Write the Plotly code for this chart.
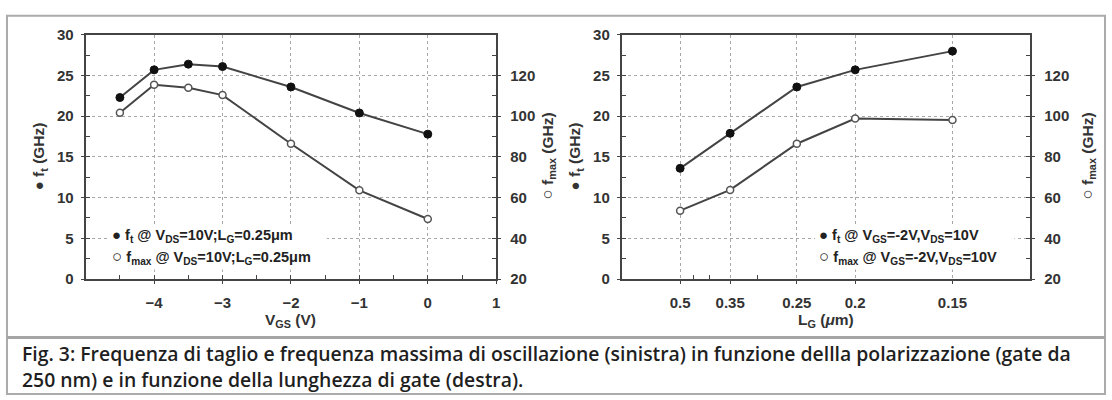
import plotly.graph_objects as go

# Left panel: gate bias sweep (L_G = 0.25 um, V_DS = 10 V)
vgs = [-4.5, -4, -3.5, -3, -2, -1, 0]
ft_vgs = [22.3, 25.7, 26.4, 26.1, 23.6, 20.4, 17.8]
fmax_vgs = [101.7, 115.5, 114.0, 110.4, 86.5, 63.6, 49.5]
vgs_ticks = [-4, -3, -2, -1, 0, 1]

# Right panel: gate length sweep (V_GS = -2 V, V_DS = 10 V)
lg = [0.5, 0.35, 0.25, 0.2, 0.15]
lg_labels = ["0.5", "0.35", "0.25", "0.2", "0.15"]
lg_minor = [0.45, 0.4, 0.3]
ft_lg = [13.6, 17.9, 23.6, 25.7, 28.0]
fmax_lg = [53.6, 63.8, 86.5, 98.9, 98.1]

ft_ticks = [0, 5, 10, 15, 20, 25, 30]
fmax_ticks = [20, 40, 60, 80, 100, 120]

W, H = 1112, 400
LINE = "#444444"
GRID = "#a8a8a8"
TXT = "#333333"
TICKFONT = dict(family="Liberation Sans", size=15, color=TXT, weight="bold")


def px(x):
    return x / W


def py(y):
    return 1 - y / H


inv_lg = [1 / v for v in lg]
inv_minor = [1 / v for v in lg_minor]

fig = go.Figure()

line_style = dict(color=LINE, width=2)
ft_marker = dict(symbol="circle", size=8, color="#111111", line=dict(color="#111111", width=1))
fmax_marker = dict(symbol="circle", size=7, color="white", line=dict(color="#555555", width=1.5))

fig.add_trace(go.Scatter(x=vgs, y=ft_vgs, mode="lines+markers", line=line_style,
                         marker=ft_marker, xaxis="x", yaxis="y", showlegend=False))
fig.add_trace(go.Scatter(x=vgs, y=fmax_vgs, mode="lines+markers", line=line_style,
                         marker=fmax_marker, xaxis="x", yaxis="y2", showlegend=False))
fig.add_trace(go.Scatter(x=inv_lg, y=ft_lg, mode="lines+markers", line=line_style,
                         marker=ft_marker, xaxis="x2", yaxis="y3", showlegend=False))
fig.add_trace(go.Scatter(x=inv_lg, y=fmax_lg, mode="lines+markers", line=line_style,
                         marker=fmax_marker, xaxis="x2", yaxis="y4", showlegend=False))

ydom = [py(282), py(27)]
common_axis = dict(showline=True, linecolor=LINE, linewidth=2, tickfont=TICKFONT,
                   zeroline=False, ticks="outside", ticklen=3, tickcolor=LINE)
grid = dict(showgrid=True, gridcolor=GRID, griddash="dot", gridwidth=1)

fig.update_layout(
    width=W, height=H,
    margin=dict(l=0, r=0, t=0, b=0),
    paper_bgcolor="white", plot_bgcolor="white",
    xaxis=dict(domain=[px(86), px(498)], range=[-5, 1], tickmode="array", tickvals=vgs_ticks,
               anchor="y", mirror=True, ticklabelstandoff=6,
               minor=dict(dtick=0.5, tick0=0, ticks="inside", ticklen=4, tickcolor=LINE, showgrid=False),
               **grid, **common_axis),
    yaxis=dict(domain=ydom, range=[0, 30], tickmode="array", tickvals=ft_ticks, anchor="x",
               mirror=True, ticklabelstandoff=4,
               minor=dict(dtick=2.5, tick0=0, ticks="inside", ticklen=4, tickcolor=LINE, showgrid=False),
               **grid, **common_axis),
    yaxis2=dict(range=[20, 140], tickmode="array", tickvals=fmax_ticks, overlaying="y",
                side="right", anchor="x", showgrid=False, ticklabelstandoff=6,
                minor=dict(dtick=10, tick0=0, ticks="inside", ticklen=4, tickcolor=LINE, showgrid=False),
                **common_axis),
    xaxis2=dict(domain=[px(624), px(1034)], range=[1, 8], tickmode="array", tickvals=inv_lg,
                ticktext=lg_labels, anchor="y3", mirror=True, ticklabelstandoff=6,
                minor=dict(tickmode="array", tickvals=inv_minor, ticks="inside", ticklen=4,
                           tickcolor=LINE, showgrid=False),
                **grid, **common_axis),
    yaxis3=dict(domain=ydom, range=[0, 30], tickmode="array", tickvals=ft_ticks, anchor="x2",
                mirror=True, ticklabelstandoff=4,
                minor=dict(dtick=2.5, tick0=0, ticks="inside", ticklen=4, tickcolor=LINE, showgrid=False),
                **grid, **common_axis),
    yaxis4=dict(range=[20, 140], tickmode="array", tickvals=fmax_ticks, overlaying="y3",
                side="right", anchor="x2", showgrid=False, ticklabelstandoff=6,
                minor=dict(dtick=10, tick0=0, ticks="inside", ticklen=4, tickcolor=LINE, showgrid=False),
                **common_axis),
)

shapes = [
    # outer frame and caption divider
    dict(type="rect", xref="paper", yref="paper", x0=px(7), x1=px(1109), y0=py(402), y1=py(7),
         line=dict(color="#ababab", width=2), fillcolor="rgba(0,0,0,0)", layer="above"),
    dict(type="line", xref="paper", yref="paper", x0=px(7), x1=px(1109), y0=py(343), y1=py(343),
         line=dict(color="#a5a5a5", width=3), layer="above"),
    # white panels behind the in-plot legends
    dict(type="rect", xref="paper", yref="paper", x0=px(108), x1=px(328), y0=py(272), y1=py(225),
         line=dict(width=0), fillcolor="white", layer="above"),
    dict(type="rect", xref="paper", yref="paper", x0=px(818), x1=px(1018), y0=py(272), y1=py(225),
         line=dict(width=0), fillcolor="white", layer="above"),
]
fig.update_layout(shapes=shapes)

LEGFONT = dict(family="Liberation Sans", size=14.5, color="#222222", weight="bold")
TITLEFONT = dict(family="Liberation Sans", size=15.5, color=TXT, weight="bold")
CAPFONT = dict(family="Open Sans", size=19.4, color="#1f1f1f", weight=600)

OPEN = "<span style='font-size:17px'>○</span>"
FILLED = "<span style='font-size:15px'>●</span>"

ann = []


def note(text, x, y, font, xanchor="left", yanchor="middle", angle=0):
    ann.append(dict(text=text, x=px(x), y=py(y), xref="paper", yref="paper", showarrow=False,
                    xanchor=xanchor, yanchor=yanchor, textangle=angle, font=font))


# in-plot legends
note(FILLED + " f<sub>t</sub> @ V<sub>DS</sub>=10V;L<sub>G</sub>=0.25μm", 110, 237, LEGFONT)
note(OPEN + " f<sub>max</sub> @ V<sub>DS</sub>=10V;L<sub>G</sub>=0.25μm", 110, 259, LEGFONT)
note(FILLED + " f<sub>t</sub> @ V<sub>GS</sub>=-2V,V<sub>DS</sub>=10V", 820, 237, LEGFONT)
note(OPEN + " f<sub>max</sub> @ V<sub>GS</sub>=-2V,V<sub>DS</sub>=10V", 820, 259, LEGFONT)

# axis titles
note(FILLED + " f<sub>t</sub> (GHz)", 40, 154, TITLEFONT, xanchor="center", angle=-90)
note(OPEN + " f<sub>max</sub> (GHz)", 550, 154, TITLEFONT, xanchor="center", angle=-90)
note(FILLED + " f<sub>t</sub> (GHz)", 578, 154, TITLEFONT, xanchor="center", angle=-90)
note(OPEN + " f<sub>max</sub> (GHz)", 1092, 154, TITLEFONT, xanchor="center", angle=-90)
note("V<sub>GS</sub> (V)", 292, 325, TITLEFONT, xanchor="center")
note("L<sub>G</sub> (<i>μ</i>m)", 829, 325, TITLEFONT, xanchor="center")

# caption
note("Fig. 3: Frequenza di taglio e frequenza massima di oscillazione (sinistra) in funzione dellla "
     "polarizzazione (gate da", 20, 360, CAPFONT)
note("250 nm) e in funzione della lunghezza di gate (destra).", 20, 387, CAPFONT)

fig.update_layout(annotations=ann)

fig.write_html("out.html")
